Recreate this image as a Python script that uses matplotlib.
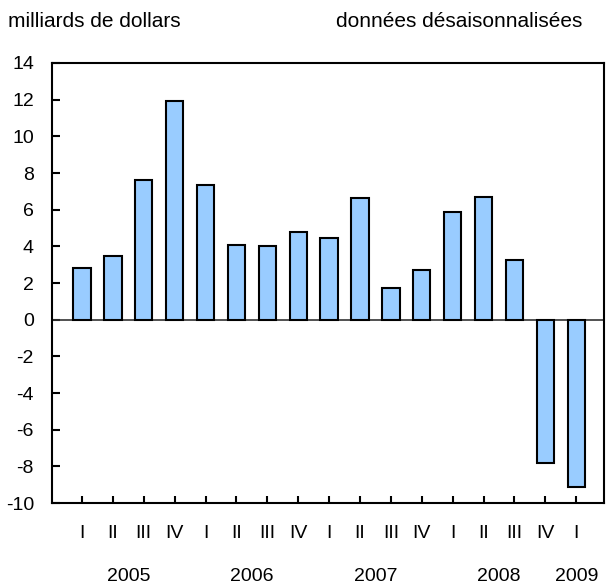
import matplotlib.pyplot as plt
import matplotlib.transforms as mtransforms

plt.rcParams['font.family'] = ['Liberation Sans', 'DejaVu Sans']
plt.rcParams['axes.unicode_minus'] = False

# quarterly values, billions of dollars (seasonally adjusted)
quarters = ['I', 'II', 'III', 'IV', 'I', 'II', 'III', 'IV', 'I', 'II', 'III', 'IV',
            'I', 'II', 'III', 'IV', 'I']
values = [2.8, 3.5, 7.6, 11.95, 7.35, 4.1, 4.0, 4.8, 4.45, 6.65, 1.75, 2.7,
          5.85, 6.7, 3.25, -7.8, -9.1]
years = ['2005', '2006', '2007', '2008', '2009']
year_pos = [1.5, 5.5, 9.5, 13.5, 16]

fs = 14

fig = plt.figure(figsize=(6.09, 5.86), dpi=100)
ax = fig.add_axes([0.0854, 0.1416, 0.9064, 0.7509])

x = list(range(len(values)))
ax.bar(x, values, width=0.56, color='#99CCFF', edgecolor='black', linewidth=1.5, zorder=3)
ax.axhline(0, color='#333333', linewidth=1.2, zorder=2)

ax.set_xlim(-0.97, 16.9)
ax.set_ylim(-10, 14)
ax.set_yticks(range(-10, 15, 2))
ax.set_xticks(x)
ax.set_xticklabels(quarters)

ax.tick_params(axis='y', direction='in', length=6, width=1.5, pad=13, labelsize=fs)
ax.tick_params(axis='x', direction='in', length=5, width=1.5, pad=16, labelsize=fs)
for s in ax.spines.values():
    s.set_linewidth(1.5)

trans = mtransforms.blended_transform_factory(ax.transData, ax.transAxes)
for yr, p in zip(years, year_pos):
    ax.text(p, -0.167, yr, transform=trans, ha='center', va='center', fontsize=fs)

fig.text(0.013, 0.964, 'milliards de dollars', ha='left', va='center', fontsize=15)
fig.text(0.956, 0.964, 'données désaisonnalisées', ha='right', va='center', fontsize=15)

fig.savefig('out.png', dpi=100)
